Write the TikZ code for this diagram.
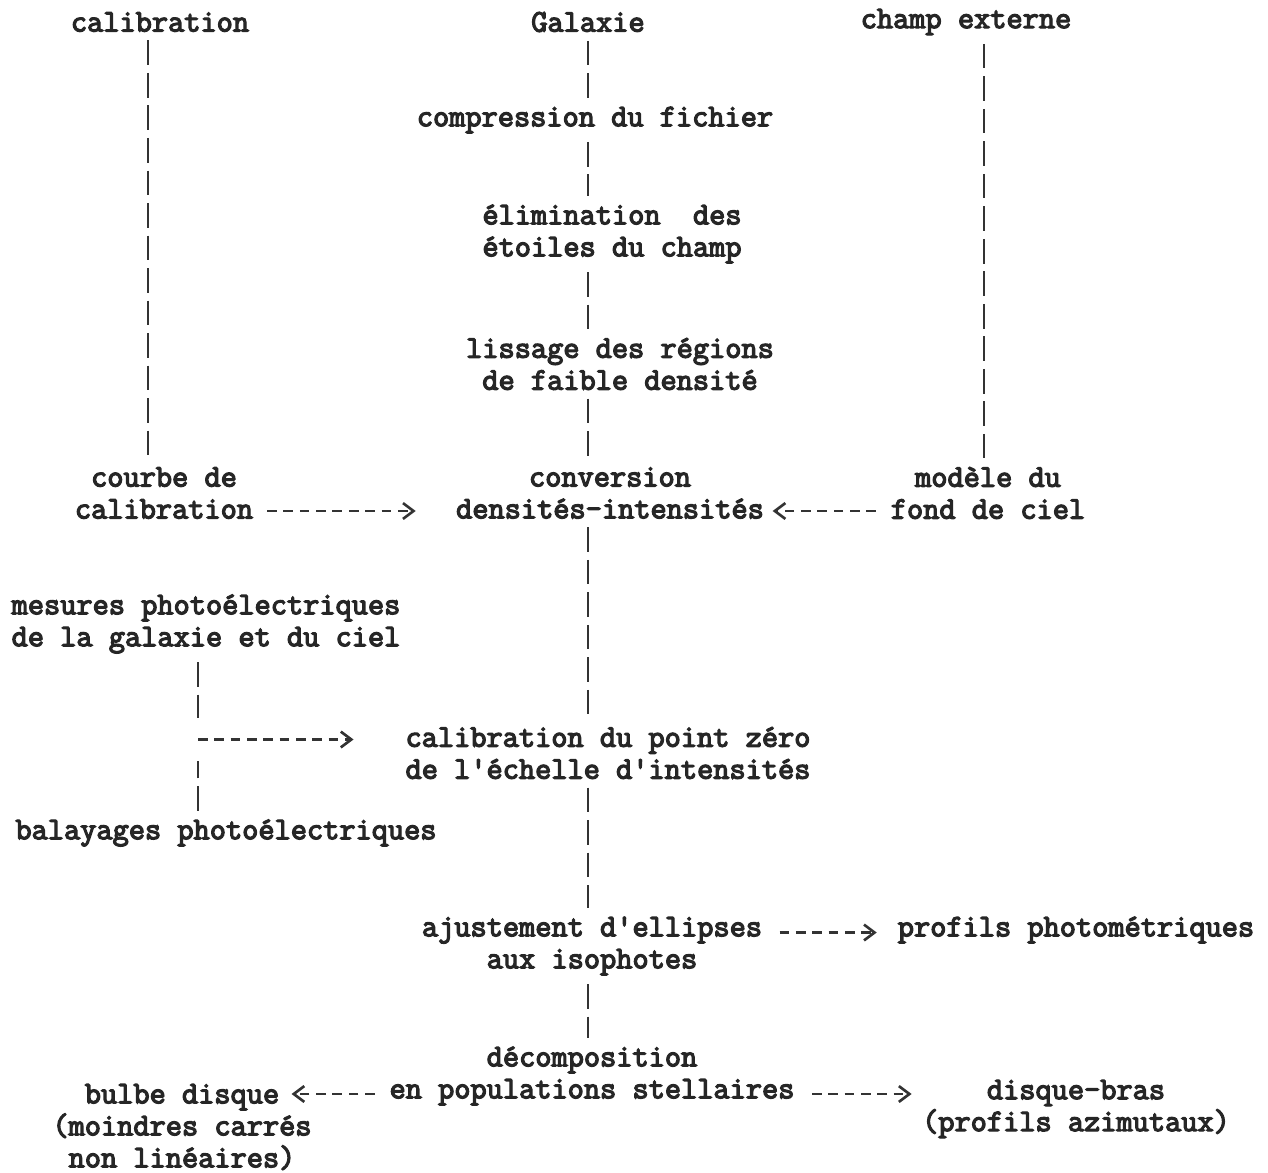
\documentclass[tikz,border=0pt]{standalone}
\usepackage{fontspec}
\newfontfamily\typewriter{Latin Modern Mono}[FakeBold=4]
\usepackage{tikz}
\usetikzlibrary{arrows.meta}

\begin{document}
\begin{tikzpicture}[x=0.02cm, y=-0.02cm,
  txt/.style={font=\typewriter\fontsize{17.9}{18.2}\selectfont, inner sep=0pt, outer sep=0pt, align=center, text=black!85},
  bar/.style={line width=1.6pt, dash pattern=on 14pt off 4.5pt, shorten <=5pt, shorten >=5pt, draw=black!80},
  tarrow/.style={line width=1.5pt, dash pattern=on 5.5pt off 3.8pt, -{Straight Barb[length=6pt, width=9pt]}, draw=black!80}]

\useasboundingbox (0,0) rectangle (1268,1173);

\node[txt] (cal) at (160,22) {calibration};
\node[txt] (gal) at (588,22) {Galaxie};
\node[txt] (champ) at (966,22) {champ externe};

\node[txt] (compr) at (595,120) {compression du fichier};
\node[txt] (elim) at (612,234) {élimination\ \ des\\étoiles du champ};
\node[txt] (liss) at (620,364) {lissage des régions\\de faible densité};

\node[txt] (courbe) at (164,493) {courbe de\\calibration};
\node[txt] (conv) at (610,493) {conversion\\densités-intensités};
\node[txt] (fond) at (988,493) {modèle du\\fond de ciel};

\node[txt] (mes) at (206,624) {mesures photoélectriques\\de la galaxie et du ciel};
\node[txt] (calz) at (608,753) {calibration du point zéro\\de l'échelle d'intensités};
\node[txt] (bal) at (226,833) {balayages photoélectriques};

\node[txt] (ajust) at (592,946) {ajustement d'ellipses\\aux isophotes};
\node[txt] (prof) at (1076,930) {profils photométriques};

\node[txt] (decomp) at (592,1076) {décomposition\\en populations stellaires};
\node[txt] (bulbe) at (182,1127) {bulbe disque\\(moindres carrés\\non linéaires)};
\node[txt] (disq) at (1076,1109) {disque-bras\\(profils azimutaux)};

% side columns
\coordinate (lcol) at ([xshift=-0.24cm]cal.south);
\coordinate (rcol) at ([xshift=0.36cm]champ.south);
\draw[bar] (lcol) -- (lcol |- courbe.north);
\draw[bar] (rcol) -- (rcol |- fond.north);

% main column
\draw[bar] (gal.south) -- (gal |- compr.north);
\draw[bar] (gal |- compr.south) -- (gal |- elim.north);
\draw[bar] (gal |- elim.south) -- (gal |- liss.north);
\draw[bar] (gal |- liss.south) -- (gal |- conv.north);
\draw[bar] (gal |- conv.south) -- (gal |- calz.north);
\draw[bar] (gal |- calz.south) -- (gal |- ajust.north);
\draw[bar] (gal |- ajust.south) -- (gal |- decomp.north);

% levels of the typed arrows
\path ([yshift=-0.36cm]conv.center) coordinate (convline);
\path ([yshift=0.27cm]calz.center) coordinate (calzline);
\path ([yshift=0.27cm]ajust.center) coordinate (ajustline);
\path ([yshift=-0.36cm]decomp.center) coordinate (decline);

\draw[tarrow, shorten <=8pt, shorten >=23pt] (courbe.east |- convline) -- (conv.west |- convline);
\draw[tarrow, shorten <=8.5pt, shorten >=5pt] (fond.west |- convline) -- (conv.east |- convline);

\coordinate (mcol) at ([xshift=-0.16cm]mes.south);
\coordinate (junc) at (mcol |- calzline);
\draw[bar, shorten >=12pt] (mcol) -- (junc);
\draw[bar, shorten >=12pt] (mcol |- bal.north) -- (junc);
\draw[tarrow, shorten >=29.6pt] (junc) -- (calz.west |- junc);

\draw[tarrow, shorten <=10pt, shorten >=12pt] (ajust.east |- ajustline) -- (prof.west |- ajustline);

\draw[tarrow, shorten <=8.5pt, shorten >=-11.4pt] (decomp.west |- decline) -- (bulbe.east |- decline);
\draw[tarrow, shorten <=10pt, shorten >=6pt] (decomp.east |- decline) -- (disq.west |- decline);

\end{tikzpicture}
\end{document}
